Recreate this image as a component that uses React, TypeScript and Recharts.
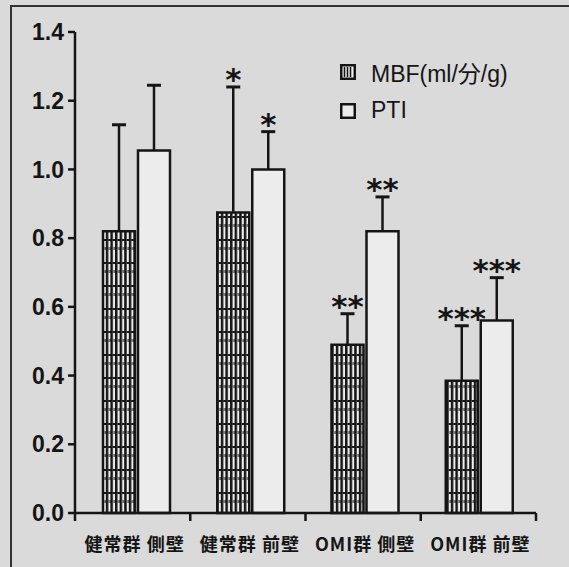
import { BarChart, Bar, XAxis, YAxis, Legend, LabelList } from 'recharts'

const groups = ['健常群 側壁', '健常群 前壁', 'OMI群 側壁', 'OMI群 前壁']
const mbf = [0.82, 0.875, 0.49, 0.385]
const mbfSd = [0.31, 0.365, 0.09, 0.16]
const pti = [1.055, 1.0, 0.82, 0.56]
const ptiSd = [0.19, 0.11, 0.1, 0.125]
const mbfMark = ['', '*', '**', '***']
const ptiMark = ['', '*', '**', '***']
const yTicks = [0, 0.2, 0.4, 0.6, 0.8, 1.0, 1.2, 1.4]

const data = groups.map((name, i) => ({
  name,
  mbf: mbf[i],
  mbfSd: mbfSd[i],
  mbfMark: mbfMark[i],
  pti: pti[i],
  ptiSd: ptiSd[i],
  ptiMark: ptiMark[i],
}))

const INK = '#151515'
const BG = '#dadada'
const FONT = "'Liberation Sans', 'Noto Sans CJK JP', sans-serif"

// upper-only error whisker, drawn as a stacked bar shape
const ErrorShape = (props: any) => {
  const { x, y, width, height } = props
  const cx = x + width / 2
  return (
    <g>
      <line x1={cx} x2={cx} y1={y + height} y2={y} stroke={INK} strokeWidth={2.5} />
      <line x1={cx - 7} x2={cx + 7} y1={y} y2={y} stroke={INK} strokeWidth={3} />
    </g>
  )
}

const StarLabel = (props: any) => {
  const { x, y, width, value } = props
  if (!value) return null
  return (
    <text
      x={x + width / 2}
      y={y + 3}
      textAnchor="middle"
      fontFamily="'DejaVu Sans', sans-serif"
      fontWeight="bold"
      fontSize={31}
      fill={INK}
    >
      {value}
    </text>
  )
}

// group name under each band, tick marks on the band edges
const GroupTick = (props: any) => {
  const { x, y, payload, index, width, visibleTicksCount } = props
  const half = payload.offset ?? width / (visibleTicksCount * 2)
  const last = index === groups.length - 1
  return (
    <g>
      <line x1={x - half} x2={x - half} y1={y} y2={y + 8} stroke={INK} strokeWidth={2.5} />
      {last && <line x1={x + half} x2={x + half} y1={y} y2={y + 8} stroke={INK} strokeWidth={2.5} />}
      <text
        x={x + 2}
        y={y + 38}
        textAnchor="middle"
        fontFamily="'Noto Sans CJK JP', sans-serif"
        fontWeight="bold"
        fontSize={18}
        letterSpacing={1}
        fill={INK}
      >
        {payload.value}
      </text>
    </g>
  )
}

const Swatch = ({ striped }: { striped: boolean }) => (
  <svg width={16} height={16} style={{ display: 'block' }}>
    <rect x={1.25} y={1.25} width={13.5} height={13.5} fill={striped ? '#f2f2f2' : '#ececec'} stroke={INK} strokeWidth={2.5} />
    {striped &&
      [4.5, 7.5, 10.5].map((sx) => (
        <line key={sx} x1={sx} x2={sx} y1={3} y2={13} stroke={INK} strokeWidth={1.6} />
      ))}
  </svg>
)

const renderLegend = (props: any) => {
  const items = (props.payload || []).filter((p: any) => p.dataKey === 'mbf' || p.dataKey === 'pti')
  return (
    <div style={{ fontFamily: FONT, fontSize: 23, color: INK }}>
      {items.map((entry: any) => (
        <div key={entry.dataKey} style={{ display: 'flex', alignItems: 'center', height: 39 }}>
          <Swatch striped={entry.dataKey === 'mbf'} />
          <span style={{ marginLeft: 15 }}>{entry.value}</span>
        </div>
      ))}
    </div>
  )
}

export default function App() {
  return (
    <div style={{ position: 'relative', width: 569, height: 567, background: BG }}>
      <style>{'body{margin:0}'}</style>
      <div
        style={{
          position: 'absolute',
          left: 10,
          top: 5,
          right: 0,
          bottom: 0,
          borderLeft: '2px solid #333',
          borderTop: '2px solid #333',
        }}
      />
      <BarChart
        width={569}
        height={567}
        data={data}
        margin={{ top: 32, right: 33, left: 15, bottom: 14 }}
        barSize={32}
        barGap={3}
        style={{ position: 'absolute', left: 0, top: 0 }}
      >
        <defs>
          <pattern id="mbfPat" width={4.6} height={23} patternUnits="userSpaceOnUse">
            <rect width={4.6} height={23} fill="#eeeeee" />
            <rect x={0} y={0} width={2.5} height={23} fill={INK} />
            <rect x={2.5} y={9} width={2.1} height={2} fill={INK} />
            <rect x={3.2} y={17} width={1.2} height={3} fill="#444" />
          </pattern>
        </defs>
        {/* bars sit on a slightly padded band axis; labels/ticks use the unpadded one */}
        <XAxis xAxisId="cat" dataKey="name" hide height={0} padding={{ left: 4, right: 0 }} />
        <XAxis
          xAxisId="lab"
          dataKey="name"
          interval={0}
          height={40}
          tickSize={0}
          tickMargin={0}
          tickLine={false}
          axisLine={{ stroke: INK, strokeWidth: 2.5 }}
          tick={<GroupTick />}
        />
        <XAxis
          xAxisId="top"
          orientation="top"
          dataKey="name"
          height={0}
          tick={false}
          tickLine={false}
          axisLine={{ stroke: INK, strokeWidth: 3 }}
        />
        <YAxis
          domain={[0, 1.4]}
          ticks={yTicks}
          interval={0}
          width={60}
          tickSize={7}
          tickMargin={4}
          tickFormatter={(v: number) => v.toFixed(1)}
          tick={{ fill: INK, fontSize: 23, fontFamily: FONT, fontWeight: 'bold' }}
          tickLine={{ stroke: INK, strokeWidth: 2.5 }}
          axisLine={{ stroke: INK, strokeWidth: 2.5 }}
        />
        <YAxis
          yAxisId="right"
          orientation="right"
          width={0}
          tick={false}
          tickLine={false}
          axisLine={{ stroke: INK, strokeWidth: 3 }}
        />
        <Legend
          layout="vertical"
          align="center"
          verticalAlign="middle"
          content={renderLegend}
          wrapperStyle={{ left: 340, top: 52, width: 215 }}
        />
        <Bar
          xAxisId="cat"
          dataKey="mbf"
          name="MBF(ml/分/g)"
          stackId="m"
          fill="url(#mbfPat)"
          stroke={INK}
          strokeWidth={2.5}
          isAnimationActive={false}
        />
        <Bar
          xAxisId="cat"
          dataKey="mbfSd"
          stackId="m"
          legendType="none"
          shape={<ErrorShape />}
          isAnimationActive={false}
        >
          <LabelList dataKey="mbfMark" content={<StarLabel />} />
        </Bar>
        <Bar
          xAxisId="cat"
          dataKey="pti"
          name="PTI"
          stackId="p"
          fill="#ececec"
          stroke={INK}
          strokeWidth={2.5}
          isAnimationActive={false}
        />
        <Bar
          xAxisId="cat"
          dataKey="ptiSd"
          stackId="p"
          legendType="none"
          shape={<ErrorShape />}
          isAnimationActive={false}
        >
          <LabelList dataKey="ptiMark" content={<StarLabel />} />
        </Bar>
      </BarChart>
    </div>
  )
}
